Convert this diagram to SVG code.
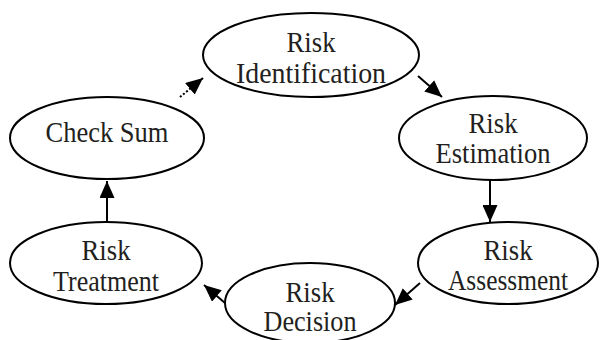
<svg xmlns="http://www.w3.org/2000/svg" width="600" height="340" viewBox="0 0 600 340">
  <style>
    .node ellipse { fill: #ffffff; stroke: #000000; stroke-width: 2; }
    .node text { font-family: "Liberation Serif", "Times New Roman", serif; font-size: 28.5px; fill: #231f20; text-anchor: middle; }
    .edge { stroke: #000000; stroke-width: 2; fill: none; }
    .dotted { stroke-dasharray: 2 2; }
  </style>
  <defs>
    <marker id="arrow" viewBox="0 0 17 15" refX="17" refY="7.5" markerWidth="17" markerHeight="15" markerUnits="userSpaceOnUse" orient="auto">
      <path d="M0,0 L17,7.5 L0,15 Z" fill="#000000"/>
    </marker>
  </defs>
  <rect width="600" height="340" fill="#ffffff"/>

  <g id="connectors">
    <line class="edge dotted" x1="180" y1="97" x2="203" y2="78" marker-end="url(#arrow)"/>
    <line class="edge" x1="418" y1="76" x2="442" y2="97" marker-end="url(#arrow)"/>
    <line class="edge" x1="490" y1="180" x2="490" y2="222" marker-end="url(#arrow)"/>
    <line class="edge" x1="420" y1="283" x2="395" y2="305" marker-end="url(#arrow)"/>
    <line class="edge" x1="225" y1="303" x2="204" y2="285" marker-end="url(#arrow)"/>
    <line class="edge" x1="107" y1="222" x2="107" y2="181" marker-end="url(#arrow)"/>
  </g>

  <g id="risk-identification" class="node">
    <ellipse cx="311" cy="55" rx="108" ry="42"/>
    <text x="311" y="52" textLength="49" lengthAdjust="spacingAndGlyphs">Risk</text>
    <text x="311" y="83" textLength="150" lengthAdjust="spacingAndGlyphs">Identification</text>
  </g>
  <g id="risk-estimation" class="node">
    <ellipse cx="493" cy="138" rx="94" ry="42"/>
    <text x="493" y="133" textLength="49" lengthAdjust="spacingAndGlyphs">Risk</text>
    <text x="493" y="163" textLength="115" lengthAdjust="spacingAndGlyphs">Estimation</text>
  </g>
  <g id="risk-assessment" class="node">
    <ellipse cx="508" cy="263" rx="90" ry="41"/>
    <text x="508" y="260" textLength="49" lengthAdjust="spacingAndGlyphs">Risk</text>
    <text x="508" y="290" textLength="120" lengthAdjust="spacingAndGlyphs">Assessment</text>
  </g>
  <g id="risk-decision" class="node">
    <ellipse cx="310" cy="303" rx="85" ry="40"/>
    <text x="310" y="302" textLength="49" lengthAdjust="spacingAndGlyphs">Risk</text>
    <text x="310" y="331" textLength="93" lengthAdjust="spacingAndGlyphs">Decision</text>
  </g>
  <g id="risk-treatment" class="node">
    <ellipse cx="106" cy="263" rx="96" ry="41"/>
    <text x="106" y="260" textLength="49" lengthAdjust="spacingAndGlyphs">Risk</text>
    <text x="106" y="291" textLength="106" lengthAdjust="spacingAndGlyphs">Treatment</text>
  </g>
  <g id="check-sum" class="node">
    <ellipse cx="107" cy="138" rx="97" ry="41"/>
    <text x="107" y="142" textLength="123" lengthAdjust="spacingAndGlyphs">Check Sum</text>
  </g>
</svg>
